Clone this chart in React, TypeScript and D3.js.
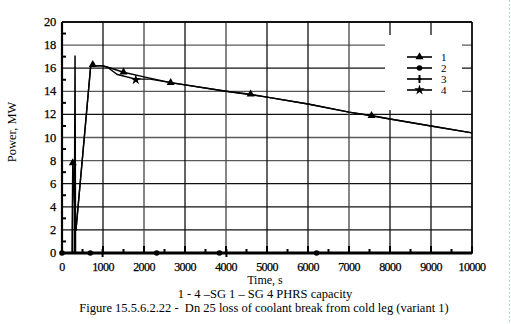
import React from "react";
import * as d3 from "d3";

const W = 511;
const H = 324;

const xTicks = [0, 1000, 2000, 3000, 4000, 5000, 6000, 7000, 8000, 9000, 10000];
const yTicks = [0, 2, 4, 6, 8, 10, 12, 14, 16, 18, 20];

// Series 1 (triangles)
const s1: [number, number][] = [
  [0, 0], [250, 0], [262, 7.8], [340, 1.95], [700, 16.2], [1000, 16.2], [1100, 16.1],
  [1500, 15.65], [2000, 15.25], [2650, 14.75], [4000, 14.0], [4600, 13.75], [5000, 13.5],
  [6000, 12.9], [7000, 12.2], [7550, 11.9], [8000, 11.6], [9000, 11.0], [10000, 10.4],
];
const s1Markers: [number, number][] = [[262, 7.8], [750, 16.3], [1500, 15.65], [2650, 14.75], [4600, 13.75], [7550, 11.9]];

// Series 2 (circles)
const s2: [number, number][] = [[0, 0], [10000, 0]];
const s2Markers: [number, number][] = [[0, 0], [690, 0], [2310, 0], [3840, 0], [6210, 0]];

// Series 3 (plus)
const s3: [number, number][] = [[0, 0], [300, 0], [318, 17.1], [330, 0], [10000, 0]];
const s3Markers: [number, number][] = [[990, 0], [4010, 0]];

// Series 4 (stars)
const s4: [number, number][] = [
  [0, 0], [250, 0], [262, 7.8], [340, 1.95], [700, 16.2], [1000, 16.2], [1100, 16.1],
  [1350, 15.45], [1800, 15.05], [2150, 15.05], [2650, 14.75], [4000, 14.0], [5000, 13.5],
  [6000, 12.9], [7000, 12.2], [8000, 11.6], [9000, 11.0], [10000, 10.4],
];
const s4Markers: [number, number][] = [[1800, 15.0]];

const legendLabels = ["1", "2", "3", "4"];

const x = d3.scaleLinear().domain([0, 10000]).range([62, 472]);
const y = d3.scaleLinear().domain([0, 20]).range([253, 22]);
const line = d3.line<[number, number]>().x(d => x(d[0])).y(d => y(d[1]));

const font = "'Liberation Serif', 'Times New Roman', serif";

function Tri({ cx, cy }: { cx: number; cy: number }) {
  return <path d={d3.symbol(d3.symbolTriangle, 28)() || ""} transform={`translate(${cx},${cy})`} fill="#000" />;
}
function Dot({ cx, cy }: { cx: number; cy: number }) {
  return <circle cx={cx} cy={cy} r={2.8} fill="#000" />;
}
function Plus({ cx, cy }: { cx: number; cy: number }) {
  return <g stroke="#000" strokeWidth={2}><line x1={cx} x2={cx} y1={cy - 4} y2={cy + 4} /><line x1={cx - 2} x2={cx + 2} y1={cy} y2={cy} /></g>;
}
function Star({ cx, cy }: { cx: number; cy: number }) {
  return <path d={d3.symbol(d3.symbolStar, 34)() || ""} transform={`translate(${cx},${cy})`} fill="#000" />;
}

export default function App() {
  const minorX = d3.range(500, 10000, 1000);
  const minorY = d3.range(1, 20, 2);
  const grayY = new Set([18, 14, 10, 8]);
  const legendY = [57, 68, 79, 90];
  const markerFns = [Tri, Dot, Plus, Star];
  return (
    <svg width={W} height={H} style={{ position: "absolute", left: 0, top: 0, background: "#fff" }} fontFamily={font}>
      <rect x={0} y={0} width={W} height={H} fill="#fff" />
      {/* grid */}
      {yTicks.map(t => (
        <line key={"gy" + t} x1={62} x2={472} y1={y(t)} y2={y(t)} stroke={grayY.has(t) ? "#5a5a5a" : "#111"} strokeWidth={1.3} />
      ))}
      {xTicks.map(t => (
        <line key={"gx" + t} x1={x(t)} x2={x(t)} y1={22} y2={253} stroke={t === 4000 || t === 2000 || t === 7000 ? "#444" : "#111"} strokeWidth={1.3} />
      ))}
      {/* legend box */}
      <rect x={385} y={35} width={77} height={75} fill="#fff" />
      {/* frame */}
      <line x1={62} x2={62} y1={22} y2={254} stroke="#000" strokeWidth={2.2} />
      <line x1={62} x2={472} y1={22} y2={22} stroke="#000" strokeWidth={1.3} />
      <line x1={472} x2={472} y1={22} y2={254} stroke="#000" strokeWidth={1.3} />
      {/* minor ticks */}
      {minorY.map(t => (
        <line key={"my" + t} x1={62} x2={66} y1={y(t)} y2={y(t)} stroke="#000" strokeWidth={2} />
      ))}
      {minorX.map(t => (
        <line key={"mx" + t} x1={x(t)} x2={x(t)} y1={253} y2={249} stroke="#000" strokeWidth={2} />
      ))}
      {xTicks.map(t => (
        <line key={"Mx" + t} x1={x(t)} x2={x(t)} y1={253} y2={246} stroke="#000" strokeWidth={2} />
      ))}
      {/* series */}
      <path d={line(s2) || ""} fill="none" stroke="#000" strokeWidth={3} />
      <path d={line(s3) || ""} fill="none" stroke="#000" strokeWidth={1.5} />
      <path d={line(s4) || ""} fill="none" stroke="#000" strokeWidth={1.4} />
      <path d={line(s1) || ""} fill="none" stroke="#000" strokeWidth={1.4} />
      {s1Markers.map((d, i) => <Tri key={"m1" + i} cx={x(d[0])} cy={y(d[1])} />)}
      {s2Markers.map((d, i) => <Dot key={"m2" + i} cx={x(d[0])} cy={y(d[1])} />)}
      {s3Markers.map((d, i) => <Plus key={"m3" + i} cx={x(d[0])} cy={y(d[1])} />)}
      {s4Markers.map((d, i) => <Star key={"m4" + i} cx={x(d[0])} cy={y(d[1])} />)}
      {/* legend */}
      {legendLabels.map((l, i) => {
        const M = markerFns[i];
        return (
          <g key={"lg" + i}>
            <line x1={407} x2={432} y1={legendY[i]} y2={legendY[i]} stroke="#000" strokeWidth={1.6} />
            <M cx={419.5} cy={legendY[i]} />
            <text x={441} y={legendY[i] + 3.5} fontFamily={font} fontSize={11} fill="#000">{l}</text>
          </g>
        );
      })}
      {/* tick labels */}
      {yTicks.map(t => (
        <text key={"ly" + t} x={56} y={y(t) + 4} fontFamily={font} fontSize={12.5} textAnchor="end" fill="#000" stroke="#000" strokeWidth={0.25} letterSpacing={-0.3}>{t}</text>
      ))}
      {xTicks.map(t => (
        <text key={"lx" + t} x={x(t)} y={270.5} fontFamily={font} fontSize={12} textAnchor="middle" fill="#000" stroke="#000" strokeWidth={0.25} letterSpacing={-0.6}>{t}</text>
      ))}
      {/* titles */}
      <text x={265} y={284} fontFamily={font} fontSize={12} textAnchor="middle" fill="#000">Time, s</text>
      <text transform="translate(16,132) rotate(-90)" fontFamily={font} fontSize={12.5} textAnchor="middle" fill="#000">Power, MW</text>
      <text x={265} y={297.5} fontFamily={font} fontSize={12.5} textAnchor="middle" fill="#000">1 - 4 –SG 1 – SG 4 PHRS capacity</text>
      <text x={264} y={311.5} fontFamily={font} fontSize={12.5} textAnchor="middle" fill="#000" style={{ whiteSpace: "pre" }}>Figure 15.5.6.2.22 -  Dn 25 loss of coolant break from cold leg (variant 1)</text>
      <line x1={509.5} x2={509.5} y1={0} y2={H} stroke="#a8dcd8" strokeWidth={1} strokeDasharray="2,2" />
    </svg>
  );
}
